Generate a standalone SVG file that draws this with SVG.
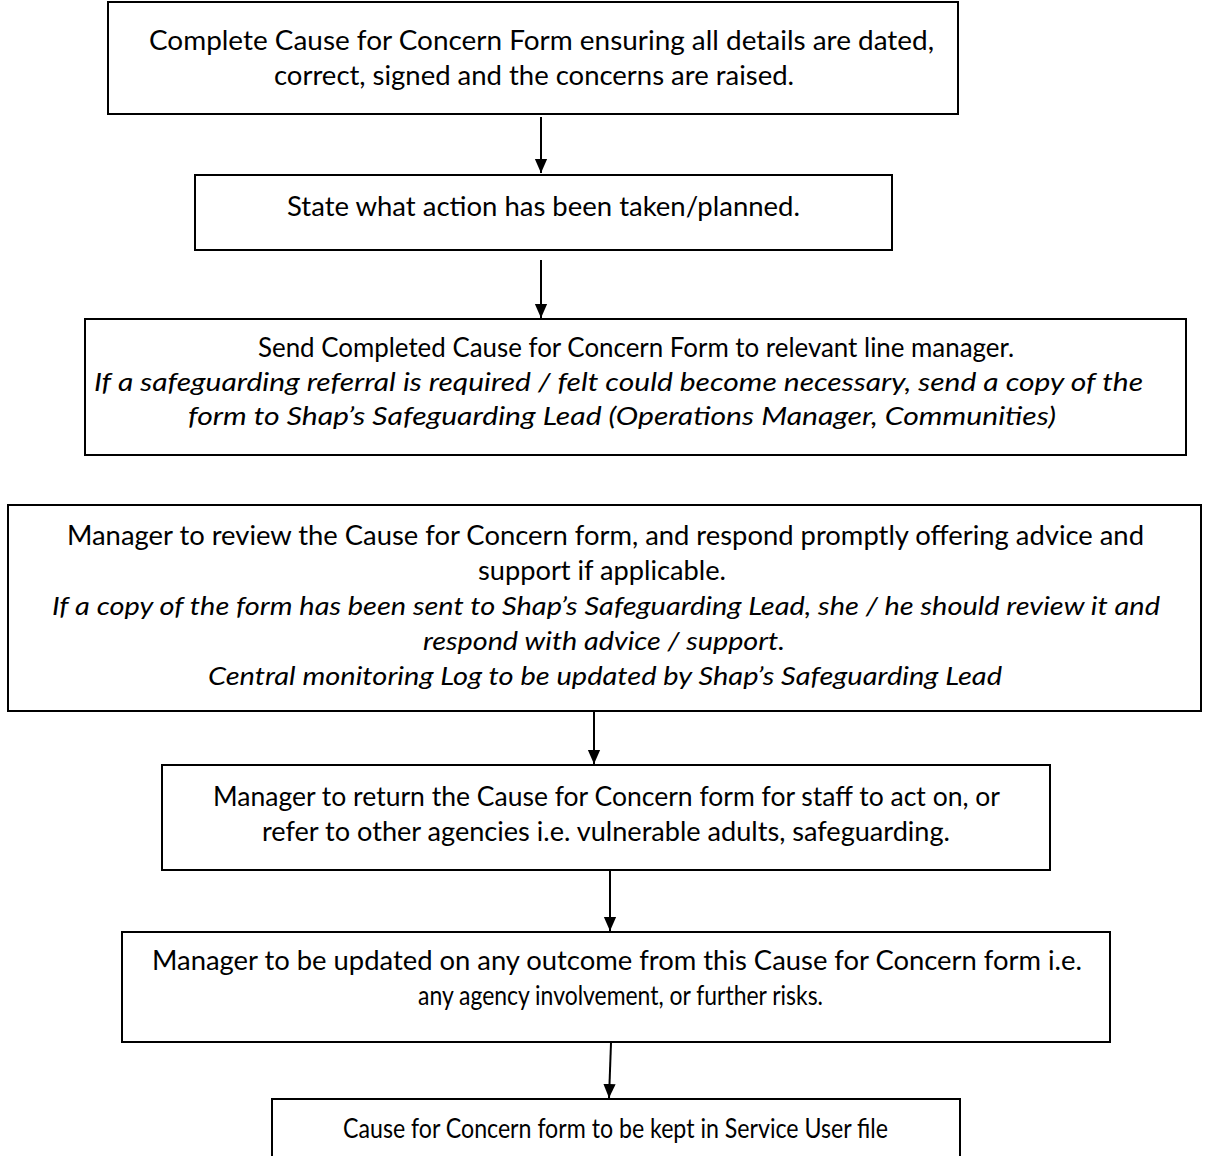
<svg xmlns="http://www.w3.org/2000/svg" width="1208" height="1156" viewBox="0 0 1208 1156">
<style>
.box{fill:#fff;stroke:#000;stroke-width:2}
.t{font-family:Lato,"Open Sans","Liberation Sans",sans-serif;font-size:26px;fill:#000;text-anchor:middle}
.i{font-style:italic}
.c{stroke:#000;stroke-width:2;fill:none}
</style>
<defs>
<marker id="ah" markerWidth="14" markerHeight="16" refX="16" refY="7" orient="auto" markerUnits="userSpaceOnUse" viewBox="0 0 16 14">
<path d="M0,0 L16,7 L0,14 Z" fill="#000"/>
</marker>
</defs>
<rect width="1208" height="1156" fill="#fff"/>
<g id="connectors">
<line class="c" x1="541" y1="117" x2="541" y2="173" marker-end="url(#ah)"/>
<line class="c" x1="541" y1="260" x2="541" y2="318" marker-end="url(#ah)"/>
<line class="c" x1="594" y1="712" x2="594" y2="764" marker-end="url(#ah)"/>
<line class="c" x1="610" y1="871" x2="610" y2="931" marker-end="url(#ah)"/>
<line class="c" x1="611" y1="1043" x2="609" y2="1098" marker-end="url(#ah)"/>
</g>
<g id="n1">
<rect class="box" x="108" y="2" width="850" height="112"/>
<text class="t" x="541.5" y="50" textLength="785" lengthAdjust="spacingAndGlyphs">Complete Cause for Concern Form ensuring all details are dated,</text>
<text class="t" x="534" y="85" textLength="520" lengthAdjust="spacingAndGlyphs">correct, signed and the concerns are raised.</text>
</g>
<g id="n2">
<rect class="box" x="195" y="175" width="697" height="75"/>
<text class="t" x="543.5" y="216" textLength="513" lengthAdjust="spacingAndGlyphs">State what action has been taken/planned.</text>
</g>
<g id="n3">
<rect class="box" x="85" y="319" width="1101" height="136"/>
<text class="t" x="636" y="357" textLength="756" lengthAdjust="spacingAndGlyphs">Send Completed Cause for Concern Form to relevant line manager.</text>
<text class="t i" x="618.5" y="391" textLength="1049" lengthAdjust="spacingAndGlyphs">If a safeguarding referral is required / felt could become necessary, send a copy of the</text>
<text class="t i" x="622" y="425" textLength="868" lengthAdjust="spacingAndGlyphs">form to Shap’s Safeguarding Lead (Operations Manager, Communities)</text>
</g>
<g id="n4">
<rect class="box" x="8" y="505" width="1193" height="206"/>
<text class="t" x="605.5" y="545" textLength="1077" lengthAdjust="spacingAndGlyphs">Manager to review the Cause for Concern form, and respond promptly offering advice and</text>
<text class="t" x="602" y="580" textLength="248" lengthAdjust="spacingAndGlyphs">support if applicable.</text>
<text class="t i" x="606" y="615" textLength="1108" lengthAdjust="spacingAndGlyphs">If a copy of the form has been sent to Shap’s Safeguarding Lead, she / he should review it and</text>
<text class="t i" x="604" y="650" textLength="362" lengthAdjust="spacingAndGlyphs">respond with advice / support.</text>
<text class="t i" x="605" y="685" textLength="794" lengthAdjust="spacingAndGlyphs">Central monitoring Log to be updated by Shap’s Safeguarding Lead</text>
</g>
<g id="n5">
<rect class="box" x="162" y="765" width="888" height="105"/>
<text class="t" x="606.5" y="806" textLength="787" lengthAdjust="spacingAndGlyphs">Manager to return the Cause for Concern form for staff to act on, or</text>
<text class="t" x="606" y="841" textLength="688" lengthAdjust="spacingAndGlyphs">refer to other agencies i.e. vulnerable adults, safeguarding.</text>
</g>
<g id="n6">
<rect class="box" x="122" y="932" width="988" height="110"/>
<text class="t" x="617" y="970" textLength="930" lengthAdjust="spacingAndGlyphs">Manager to be updated on any outcome from this Cause for Concern form i.e.</text>
<text class="t" x="620.5" y="1005" textLength="405" lengthAdjust="spacingAndGlyphs">any agency involvement, or further risks.</text>
</g>
<g id="n7">
<rect class="box" x="272" y="1099" width="688" height="80"/>
<text class="t" x="615.5" y="1138" textLength="545" lengthAdjust="spacingAndGlyphs">Cause for Concern form to be kept in Service User file</text>
</g>
</svg>
